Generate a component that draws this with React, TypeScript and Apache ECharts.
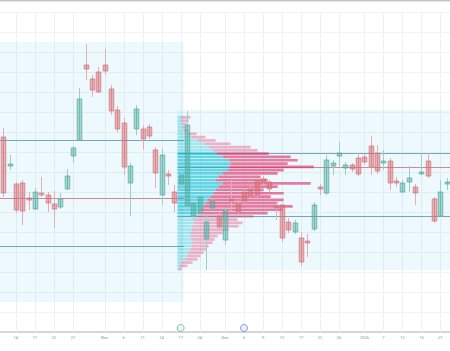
import React, { useEffect, useRef } from "react";
import * as echarts from "echarts";

const dates = [
  "2025-10-10","2025-10-13","2025-10-14","2025-10-15","2025-10-16","2025-10-17","2025-10-20","2025-10-21","2025-10-22","2025-10-23",
  "2025-10-24","2025-10-27","2025-10-28","2025-10-29","2025-10-30","2025-10-31","2025-11-03","2025-11-04","2025-11-05","2025-11-06",
  "2025-11-07","2025-11-10","2025-11-11","2025-11-12","2025-11-13","2025-11-14","2025-11-15","2025-11-16","2025-11-17","2025-11-18",
  "2025-11-21","2025-11-24","2025-11-25","2025-11-26","2025-11-28","2025-12-01","2025-12-02","2025-12-04","2025-12-06","2025-12-07",
  "2025-12-08","2025-12-09","2025-12-10","2025-12-11","2025-12-12","2025-12-15","2025-12-16","2025-12-17","2025-12-18","2025-12-19",
  "2025-12-22","2025-12-23","2025-12-24","2025-12-26","2025-12-29","2025-12-30","2025-12-31","2026-01-02","2026-01-05","2026-01-06",
  "2026-01-07","2026-01-08","2026-01-09","2026-01-12","2026-01-13","2026-01-14","2026-01-15","2026-01-16","2026-01-20","2026-01-21",
  "2026-01-22",
];

// [open, close, low, high]
const ohlc = [
  [88.75, 74.75, 73.75, 91], [81.5, 82, 80.5, 84.25], [77, 70.5, 69.75, 77.5], [77.25, 70.25, 66.75, 78],
  [73.5, 73, 70.5, 75], [70.75, 75, 70.5, 76], [74.75, 74.25, 73.75, 78.75], [74.25, 72.25, 70, 75],
  [72, 70.75, 66, 75.25], [71.25, 73.25, 70.75, 74.75], [75.75, 79, 75.5, 80.75], [84, 86, 82.25, 86.5],
  [88, 98.25, 87.75, 101], [106.75, 105.75, 103, 112], [103.25, 100.5, 98.75, 104.25], [105, 100, 99.75, 106.25],
  [106.75, 105.25, 104.25, 110.75], [100.75, 95.25, 94.25, 101.75], [95.5, 90.75, 90, 96.5], [92.25, 81.25, 79.25, 93.5],
  [77.25, 81.5, 69, 82.25], [90.75, 95.75, 89.25, 96.75], [90.75, 88.25, 85.5, 91.75], [91.25, 89, 88.25, 92],
  [85.5, 79.75, 76, 86.25], [74.25, 84.25, 71.75, 85.75], [79.5, 79, 76.75, 80.5], [75, 72.25, 70, 76.75],
  [77, 79.25, 75.5, 80.5], [71.5, 91.75, 70.5, 95.25], [69, 72.25, 68, 73.5], [69.75, 73.75, 69, 74.25],
  [63.25, 67.5, 55.5, 69.25], [71, 72.75, 70.5, 73.5], [69, 66.25, 65.5, 70], [63, 70.25, 61.75, 71],
  [73.25, 72.75, 70, 78], [72, 70, 69.25, 73], [75, 72.75, 72, 76], [75.75, 74, 73.25, 76.5],
  [78, 74.25, 73.5, 78.5], [78.25, 77.25, 76.5, 79], [77.5, 75.75, 75, 78], [71.5, 71, 68, 72.5],
  [71.75, 63.5, 62.5, 72.25], [67.5, 65.5, 64.75, 68.5], [65, 67.25, 64.5, 68], [63.5, 57.5, 56.5, 65],
  [62.75, 62.25, 58.75, 64.5], [65.75, 71.75, 65.25, 72.5], [76.25, 75.75, 74.25, 77], [74.75, 83, 74.25, 84.25],
  [81.5, 82.25, 79.25, 83], [84, 84.75, 81.5, 87.5], [81, 81.75, 79.25, 82.5], [81.75, 80.75, 80, 82.25],
  [83.5, 79.5, 79, 84.75], [83.75, 82.5, 81.75, 84.5], [86.5, 81.25, 79.25, 89], [84.75, 80.25, 79.5, 86.75],
  [82.25, 82.75, 80.5, 85.5], [82.75, 77.25, 75.5, 83.5], [77.75, 77.25, 76.25, 78.75], [75, 77.25, 74.75, 78],
  [77.5, 78.5, 75, 81.5], [76.25, 74.75, 71.75, 77], [79.5, 80, 79.25, 84.75], [82.75, 79, 78.5, 84.75],
  [73.25, 67.75, 67.25, 73.75], [69, 75, 68.75, 78], [77, 77.5, 75.5, 78.5],
];

const tickIdx = [2, 5, 8, 11, 16, 19, 22, 25, 28, 31, 35, 38, 41, 44, 47, 50, 53, 57, 60, 63, 66, 69];
const tickText = ["14", "17", "22", "27", "Nov", "6", "11", "14", "17", "24", "Dec", "6", "9", "12", "17", "22", "26", "2026", "7", "12", "15", "21"];

// fixed-range volume profiles
const rangeStart = [0, 28];
const rangeEnd = [28, 70];
const rangeHigh = [112.5, 95.5];
const rangeLow = [47.5, 55.5];
const rangeVAH = [88, 84.75];
const rangePOC = [73.4, 81.25];
const rangeVAL = [61.5, 69];

const profileTop = 94;
const profileRow = 0.825;
const profileUp = [3, 4, 5, 5, 6, 9, 14, 20, 27, 32, 36, 39, 45, 51, 53, 52, 50, 45, 41, 38, 45, 41, 38, 36, 33, 30, 28, 26, 23, 21, 19, 17, 16, 15, 14, 13, 13, 14, 15, 14, 13, 11, 10, 7, 4, 2, 1];
const profileDown = [10, 7, 4, 4, 5, 10, 14, 18, 26, 41, 44, 52, 68, 69, 57, 84, 56, 55, 42, 52, 88, 59, 48, 70, 60, 76, 72, 89, 82, 69, 57, 43, 49, 46, 37, 32, 27, 23, 20, 17, 16, 15, 13, 13, 11, 8, 3];

const eventIdx = [28, 38];
const eventPrice = [41, 41];

export default function App() {
  const ref = useRef<HTMLDivElement>(null);
  useEffect(() => {
    document.body.style.margin = "0";
    const chart = echarts.init(ref.current!, null, { renderer: "svg" });
    const maxTotal = Math.max(...profileUp.map((u, k) => u + profileDown[k]));
    const P = 1;

    const option: any = {
      animation: false,
      backgroundColor: "#ffffff",
      textStyle: { fontFamily: "Roboto, sans-serif" },
      grid: { left: 0, right: 0, top: 12, bottom: 19 },
      xAxis: {
        type: "category",
        data: dates,
        boundaryGap: true,
        axisLine: { lineStyle: { color: "#c9cbd0", width: 1.5 } },
        axisTick: { show: false },
        splitLine: { show: false },
        axisLabel: {
          interval: (index: number) => tickIdx.includes(index),
          formatter: (_v: string, index: number) => {
            const j = tickIdx.indexOf(index);
            return j >= 0 ? tickText[j] : "";
          },
          fontSize: 4,
          color: "#8a8d95",
          margin: 3,
        },
      },
      yAxis: {
        type: "value",
        min: 40,
        max: 120,
        interval: 5,
        axisLine: { show: false },
        axisTick: { show: false },
        axisLabel: { show: false },
        splitLine: { show: true, lineStyle: { color: "#f1f3f6", width: 1 } },
      },
      graphic: [
        { type: "rect", shape: { x: 0, y: 0, width: 450, height: 1.5 }, style: { fill: "#c6c7ca" } },
      ],
      series: [
        {
          type: "custom",
          name: "vgrid",
          z: 1,
          silent: true,
          data: tickIdx.map((i) => [i, 40, 120]),
          encode: { x: 0, y: [1, 2] },
          renderItem: (_p: any, api: any) => {
            const a = api.coord([api.value(0), api.value(1)]);
            const b = api.coord([api.value(0), api.value(2)]);
            const x = Math.round(a[0]) + 0.5;
            return { type: "line", shape: { x1: x, y1: a[1], x2: x, y2: b[1] }, style: { stroke: "#eef1f5", lineWidth: 1 } };
          },
        },
        {
          type: "custom",
          name: "ranges",
          z: 2,
          silent: true,
          data: rangeStart.map((s, k) => [s, rangeEnd[k], rangeHigh[k], rangeLow[k], rangeVAH[k], rangePOC[k], rangeVAL[k]]),
          encode: { x: [0, 1], y: [2, 3, 4, 5, 6] },
          renderItem: (params: any, api: any) => {
            const s = api.value(0), e = api.value(1);
            const band = api.size([1, 0])[0];
            const x0 = Math.max(api.coord([s, 0])[0] - band / 2, params.coordSys.x);
            const x1 = Math.min(api.coord([e, 0])[0] + band / 2, params.coordSys.x + params.coordSys.width);
            const yH = api.coord([s, api.value(2)])[1];
            const yL = api.coord([s, api.value(3)])[1];
            const ln = (v: number, c: string) => {
              const y = Math.round(api.coord([s, v])[1]) + 0.5;
              return { type: "line", shape: { x1: x0, y1: y, x2: x1, y2: y }, style: { stroke: c, lineWidth: 1 } };
            };
            return {
              type: "group",
              children: [
                { type: "rect", shape: { x: x0, y: yH, width: x1 - x0, height: yL - yH }, style: { fill: "rgba(0,172,214,0.07)" } },
                ln(api.value(4), "#77a5ba"),
                ln(api.value(6), "#77a5ba"),
                ln(api.value(5), "#d38890"),
              ],
            };
          },
        },
        {
          type: "custom",
          name: "profile",
          z: 3,
          silent: true,
          data: profileUp.map((u, k) => [rangeStart[P], profileTop - profileRow * k, profileTop - profileRow * (k + 1), u, profileDown[k]]),
          encode: { x: 0, y: [1, 2] },
          renderItem: (_p: any, api: any) => {
            const s = api.value(0);
            const band = api.size([1, 0])[0];
            const x0 = api.coord([s, 0])[0] - band / 2;
            const x1 = api.coord([rangeEnd[P], 0])[0] + band / 2;
            const scale = ((x1 - x0) * 0.5) / maxTotal;
            const top = api.value(1), bot = api.value(2);
            const yT = api.coord([s, top])[1];
            const yB = api.coord([s, bot])[1];
            const mid = (top + bot) / 2;
            const inVA = mid <= rangeVAH[P] && mid >= rangeVAL[P];
            const wu = api.value(3) * scale;
            const wd = api.value(4) * scale;
            const h = yB - yT - 0.6;
            return {
              type: "group",
              children: [
                { type: "rect", shape: { x: x0, y: yT, width: wu, height: h }, style: { fill: inVA ? "rgba(0,188,212,0.58)" : "rgba(0,188,212,0.3)" } },
                { type: "rect", shape: { x: x0 + wu, y: yT, width: wd, height: h }, style: { fill: inVA ? "rgba(222,40,100,0.6)" : "rgba(222,40,100,0.33)" } },
              ],
            };
          },
        },
        {
          type: "custom",
          name: "price",
          z: 4,
          data: ohlc.map((d, i) => [i, d[0], d[1], d[2], d[3]]),
          encode: { x: 0, y: [1, 2, 3, 4] },
          renderItem: (_p: any, api: any) => {
            const i = api.value(0);
            const o = api.value(1), c = api.value(2), l = api.value(3), h = api.value(4);
            const up = c >= o;
            const pO = api.coord([i, o]), pC = api.coord([i, c]);
            const pL = api.coord([i, l]), pH = api.coord([i, h]);
            const band = api.size([1, 0])[0];
            const w = band * 0.72;
            const cx = Math.round(pO[0]) + 0.5;
            const top = Math.min(pO[1], pC[1]);
            const bh = Math.max(Math.abs(pO[1] - pC[1]), 1);
            return {
              type: "group",
              children: [
                { type: "line", shape: { x1: cx, y1: pH[1], x2: cx, y2: pL[1] }, style: { stroke: up ? "#9ccfc9" : "#e6aeb3", lineWidth: 1 } },
                {
                  type: "rect",
                  shape: { x: cx - w / 2, y: top, width: w, height: bh },
                  style: {
                    fill: up ? "rgba(8,153,129,0.34)" : "rgba(215,60,70,0.38)",
                    stroke: up ? "#68a8a0" : "#cc7d85",
                    lineWidth: 0.8,
                  },
                },
              ],
            };
          },
        },
        {
          type: "scatter",
          name: "events",
          z: 5,
          silent: true,
          symbol: "circle",
          symbolSize: 7,
          data: [
            { value: [eventIdx[0], eventPrice[0]], itemStyle: { color: "#e6f6f3", borderColor: "#5fb3a6", borderWidth: 1 } },
            { value: [eventIdx[1], eventPrice[1]], itemStyle: { color: "#e8edfb", borderColor: "#6f84cf", borderWidth: 1 } },
          ],
        },
      ],
    };
    chart.setOption(option);
    return () => chart.dispose();
  }, []);
  return <div ref={ref} style={{ width: 450, height: 351 }} />;
}
